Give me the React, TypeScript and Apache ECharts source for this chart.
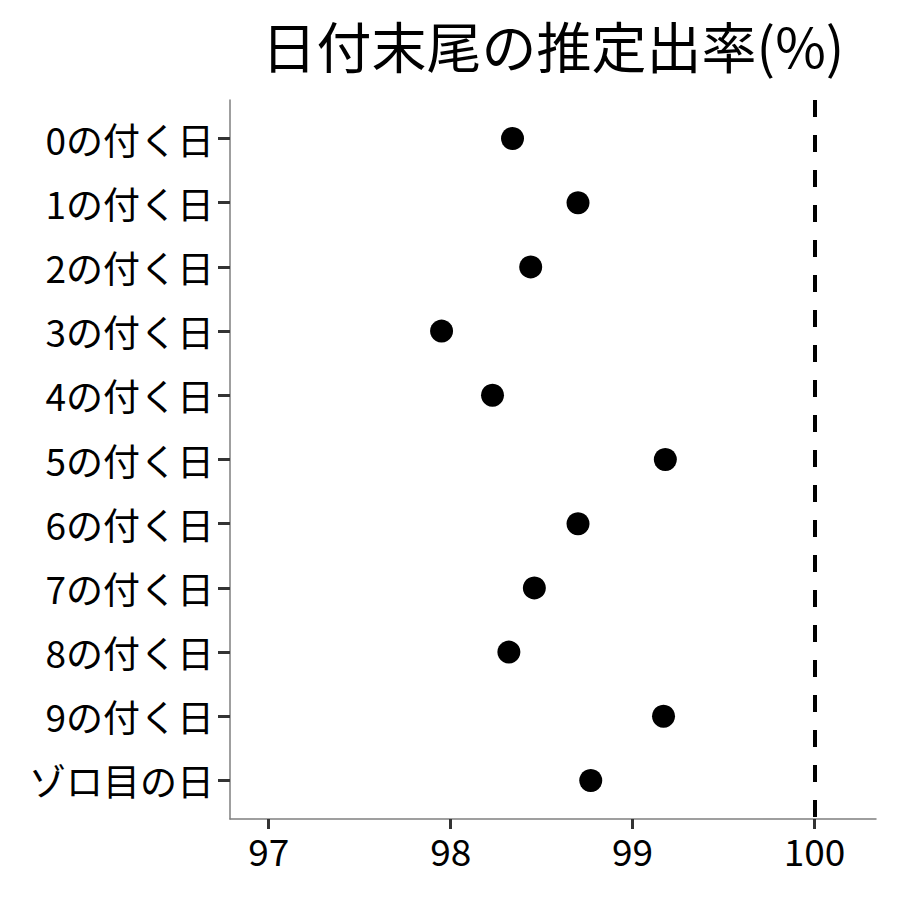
import React, { useEffect, useRef } from "react";
import * as echarts from "echarts";

const categories = [
  "0の付く日",
  "1の付く日",
  "2の付く日",
  "3の付く日",
  "4の付く日",
  "5の付く日",
  "6の付く日",
  "7の付く日",
  "8の付く日",
  "9の付く日",
  "ゾロ目の日",
];
const rates = [98.34, 98.7, 98.44, 97.95, 98.23, 99.18, 98.7, 98.46, 98.32, 99.17, 98.77];
const xTicks = [97, 98, 99, 100];
const referenceLine = 100;
const titleText = "日付末尾の推定出率(%)";

const FONT = '"Noto Sans CJK JP", "Noto Sans", sans-serif';

export default function App() {
  const ref = useRef<HTMLDivElement>(null);
  useEffect(() => {
    if (!ref.current) return;
    const chart = echarts.init(ref.current, null, { renderer: "svg" });
    const gridLeft = 230;
    const gridRight = 24;
    chart.setOption({
      animation: false,
      backgroundColor: "#ffffff",
      textStyle: { fontFamily: FONT },
      title: {
        text: titleText,
        left: (gridLeft + (900 - gridRight)) / 2 - 5,
        top: 11,
        textAlign: "center",
        textStyle: { fontFamily: FONT, fontSize: 55, fontWeight: "normal", color: "#000" },
      },
      grid: { left: gridLeft, right: gridRight, top: 100, bottom: 81, containLabel: false },
      xAxis: {
        type: "value",
        min: 96.787,
        max: 100.338,
        splitLine: { show: false },
        axisLine: { show: true, onZero: false, lineStyle: { color: "#7f7f7f", width: 1.5 } },
        axisTick: {
          show: true,
          customValues: xTicks,
          length: 10,
          lineStyle: { color: "#333333", width: 3 },
        },
        axisLabel: {
          customValues: xTicks,
          fontFamily: FONT,
          fontSize: 37,
          color: "#000",
          margin: 12,
          formatter: (v: number) => String(v),
        },
      },
      yAxis: {
        type: "value",
        min: -0.6,
        max: 10.6,
        inverse: true,
        splitLine: { show: false },
        axisLine: { show: true, onZero: false, lineStyle: { color: "#7f7f7f", width: 1.5 } },
        axisTick: {
          show: true,
          customValues: categories.map((_, i) => i),
          length: 12,
          lineStyle: { color: "#333333", width: 3 },
        },
        axisLabel: {
          customValues: categories.map((_, i) => i),
          fontFamily: FONT,
          fontSize: 37,
          color: "#000",
          margin: 16,
          formatter: (v: number) => categories[Math.round(v)] ?? "",
        },
      },
      series: [
        {
          type: "scatter",
          symbol: "circle",
          symbolSize: 23,
          itemStyle: { color: "#000", opacity: 1 },
          data: rates.map((v, i) => [v, i]),
          markLine: {
            silent: true,
            symbol: ["none", "none"],
            label: { show: false },
            lineStyle: { type: [17, 18], color: "#000", width: 4 },
            data: [{ xAxis: referenceLine }],
          },
        },
      ],
    });
    return () => chart.dispose();
  }, []);
  return (
    <div
      ref={ref}
      style={{ position: "fixed", left: 0, top: 0, width: 900, height: 900, background: "#fff" }}
    />
  );
}
